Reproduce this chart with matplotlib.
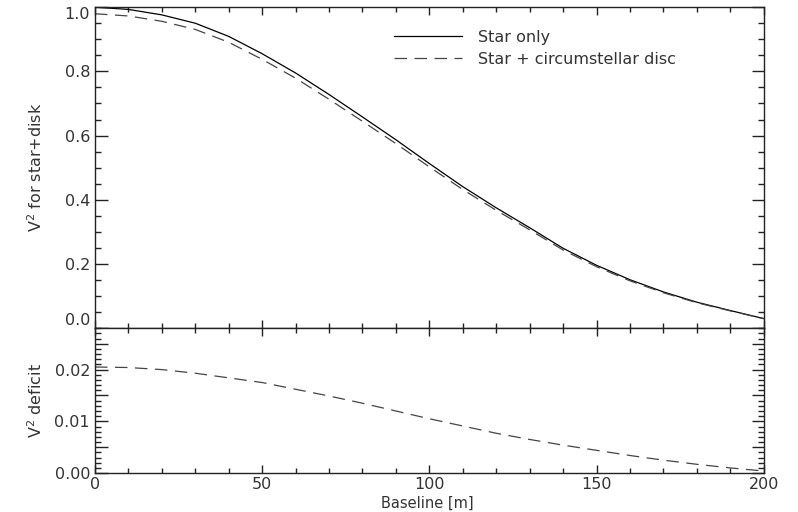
import matplotlib
matplotlib.use("Agg")
import matplotlib.pyplot as plt
from matplotlib.ticker import MultipleLocator, FuncFormatter
import numpy as np

# baseline in metres
baseline = [0, 10, 20, 30, 40, 50, 60, 70, 80, 90, 100,
            110, 120, 130, 140, 150, 160, 170, 180, 190, 200]

# squared visibility of the bare star
v2_star = [1.000, 0.993, 0.976, 0.950, 0.909, 0.855, 0.795, 0.728, 0.658, 0.587, 0.513,
           0.441, 0.375, 0.313, 0.249, 0.196, 0.151, 0.113, 0.081, 0.055, 0.030]

# loss of V^2 once the disc is added
v2_deficit = [0.0205, 0.0204, 0.0200, 0.0193, 0.0184, 0.0175, 0.0162, 0.0149, 0.0135, 0.0120, 0.0105,
              0.0091, 0.0077, 0.0065, 0.0054, 0.0044, 0.0034, 0.0025, 0.0017, 0.0010, 0.0004]

x = np.array(baseline)
v2_disc = np.array(v2_star) - np.array(v2_deficit)

plt.rcParams["font.family"] = "DejaVu Sans"
txt = "#333333"
fs = 11.5

fig = plt.figure(figsize=(7.98, 5.12), dpi=100)
ax1 = fig.add_axes([0.119, 0.359, 0.838, 0.627])
ax2 = fig.add_axes([0.119, 0.076, 0.838, 0.283])

dash = (0, (10, 6))
ax1.plot(x, v2_star, color="black", lw=0.9, label="Star only")
ax1.plot(x, v2_disc, color="#444444", lw=0.9, ls=dash, label="Star + circumstellar disc")
ax2.plot(x, v2_deficit, color="#444444", lw=0.9, ls=dash)

ax1.set_xlim(0, 200)
ax1.set_ylim(0, 1.0)
ax2.set_xlim(0, 200)
ax2.set_ylim(0, 0.028)

for ax in (ax1, ax2):
    ax.xaxis.set_major_locator(MultipleLocator(50))
    ax.xaxis.set_minor_locator(MultipleLocator(10))
    ax.tick_params(which="both", direction="in", top=True, right=True,
                   colors="#222222", labelcolor=txt, labelsize=fs, width=1.0)
    ax.tick_params(axis="x", which="major", length=6)
    ax.tick_params(axis="x", which="minor", length=3.5)
    ax.tick_params(axis="y", which="major", length=9)
    ax.tick_params(axis="y", which="minor", length=4.5)
    for s in ax.spines.values():
        s.set_color("#222222")
        s.set_linewidth(1.0)

ax1.yaxis.set_major_locator(MultipleLocator(0.2))
ax1.yaxis.set_minor_locator(MultipleLocator(0.05))
ax1.yaxis.set_major_formatter(FuncFormatter(lambda v, p: f"{v:.1f}"))
ax1.tick_params(axis="x", labelbottom=False)

ax2.yaxis.set_major_locator(MultipleLocator(0.005))
ax2.yaxis.set_minor_locator(MultipleLocator(0.001))
ax2.yaxis.set_major_formatter(
    FuncFormatter(lambda v, p: f"{v:.2f}" if abs(v * 100 - round(v * 100)) < 1e-6 else ""))
ax2.tick_params(axis="x", pad=3)

fig.canvas.draw()
# keep the end labels of the upper panel inside its frame
for lab in ax1.get_yticklabels():
    if lab.get_text() == "1.0":
        lab.set_va("top")
    elif lab.get_text() == "0.0":
        lab.set_va("bottom")

ax1.set_ylabel("V$^2$ for star+disk", color=txt, fontsize=fs)
ax2.set_ylabel("V$^2$ deficit", color=txt, fontsize=fs)
ax1.yaxis.set_label_coords(-0.075, 0.5)
ax2.yaxis.set_label_coords(-0.075, 0.5)

fig.text(0.536, 1 / 512, "Baseline [m]", ha="center", va="bottom",
         color=txt, fontsize=10.5)

leg = ax1.legend(loc="upper left", bbox_to_anchor=(0.425, 0.975), frameon=False,
                 fontsize=fs, handlelength=4.3, handletextpad=1.0, labelspacing=0.45)
for t in leg.get_texts():
    t.set_color(txt)

fig.savefig("out.png", dpi=100)
